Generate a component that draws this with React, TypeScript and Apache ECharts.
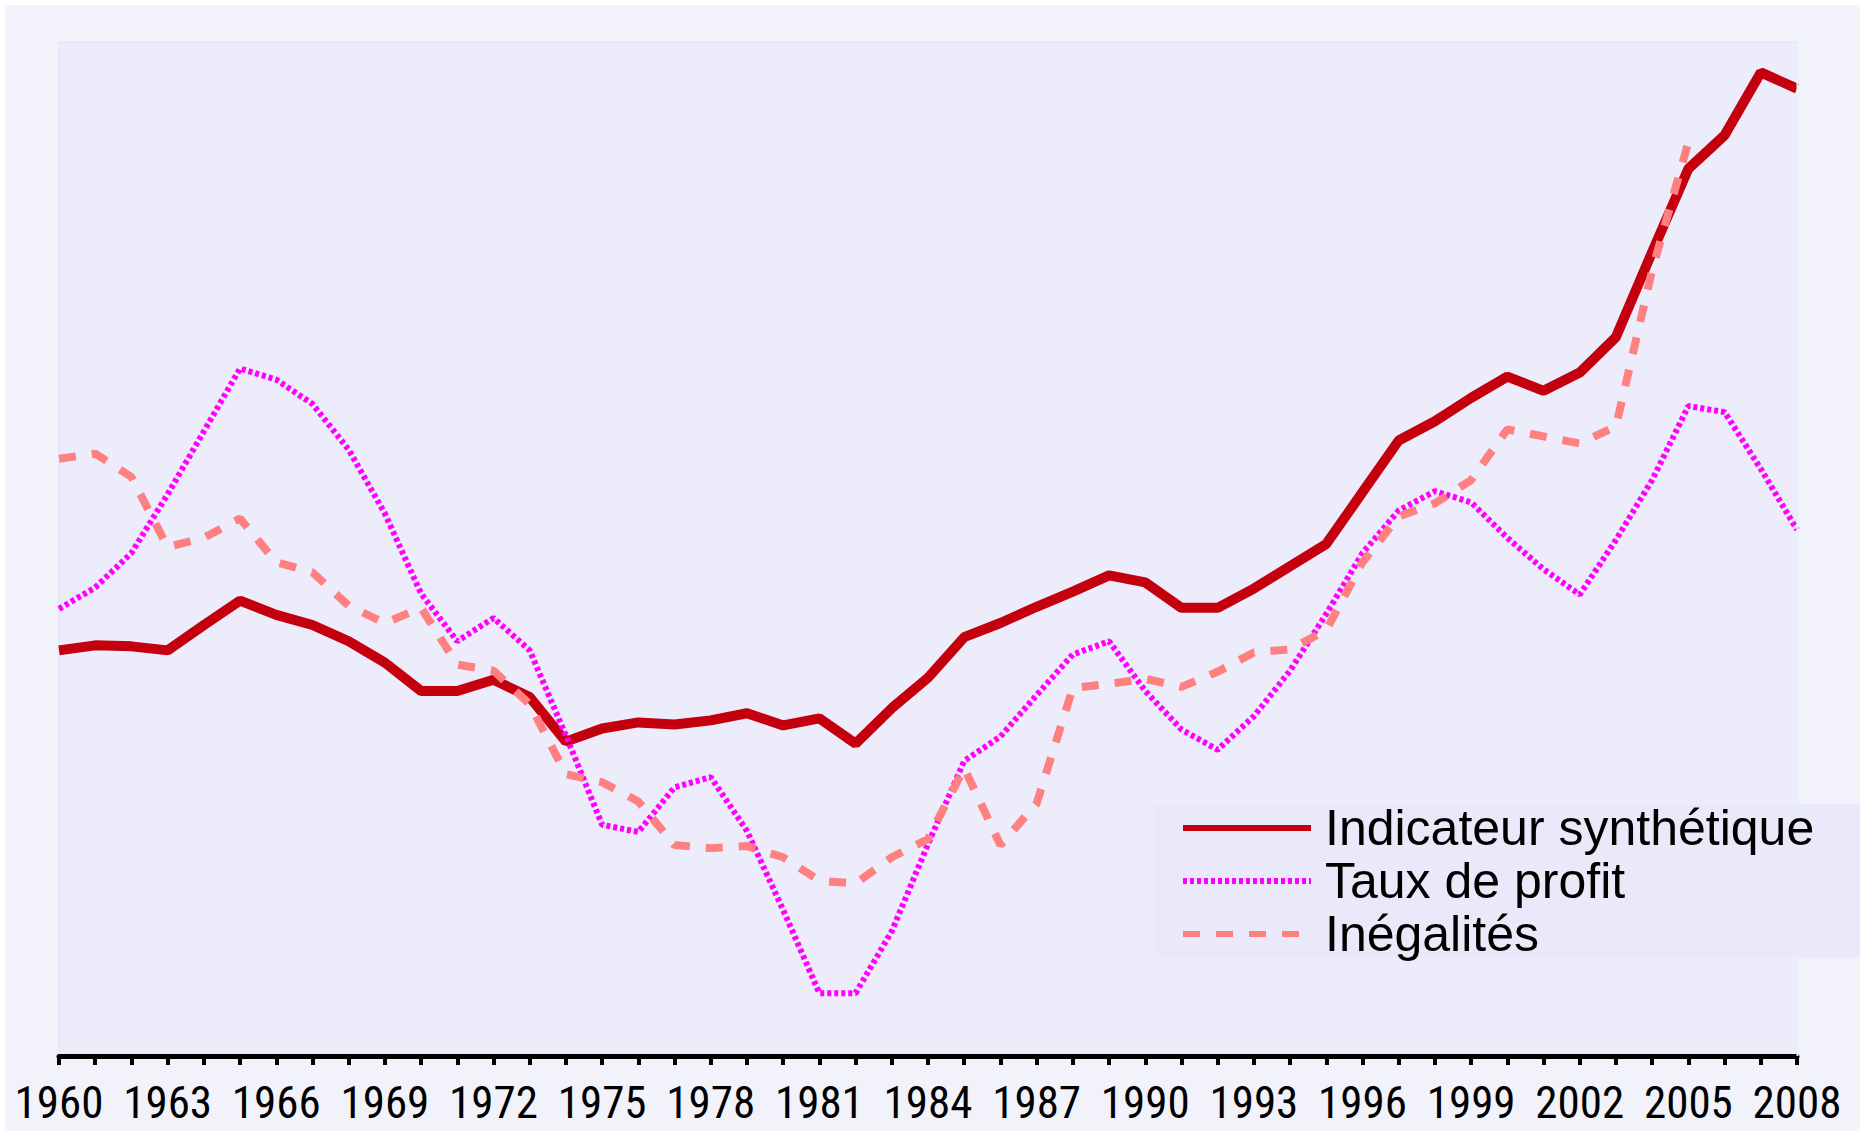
import React, { useEffect, useRef } from "react";
import * as echarts from "echarts";

const years: string[] = [];
for (let y = 1960; y <= 2008; y++) years.push(String(y));

const indicateur = [
  40.0, 40.5, 40.4, 40.0, 42.5, 44.9, 43.5, 42.5, 40.9, 38.8,
  36.0, 36.0, 37.1, 35.4, 31.0, 32.3, 32.9, 32.7, 33.1, 33.8,
  32.6, 33.3, 30.8, 34.3, 37.3, 41.3, 42.7, 44.3, 45.8, 47.4,
  46.7, 44.2, 44.2, 46.1, 48.3, 50.5, 55.6, 60.7, 62.6, 64.9,
  67.0, 65.6, 67.4, 70.9, 79.3, 87.5, 90.8, 97.0, 95.4,
];

const tauxProfit = [
  44.1, 46.2, 49.6, 55.4, 61.6, 67.8, 66.7, 64.3, 59.8, 53.5,
  45.6, 40.9, 43.2, 40.0, 31.6, 22.8, 22.1, 26.5, 27.5, 22.2,
  14.4, 6.2, 6.2, 12.3, 20.9, 29.1, 31.5, 35.6, 39.6, 40.9,
  36.0, 32.2, 30.2, 33.5, 38.0, 43.6, 49.6, 53.8, 55.7, 54.6,
  51.1, 48.0, 45.5, 50.9, 56.8, 64.1, 63.5, 57.9, 51.9,
];

const inegalites: (number | null)[] = [
  58.9, 59.4, 57.1, 50.2, 51.1, 53.0, 48.7, 47.7, 44.4, 42.7,
  44.2, 38.6, 38.0, 34.7, 27.8, 27.0, 25.1, 20.8, 20.5, 20.7,
  19.6, 17.3, 17.0, 19.6, 21.4, 28.4, 20.8, 24.9, 36.3, 36.7,
  37.2, 36.4, 37.9, 39.8, 40.1, 42.0, 48.7, 53.2, 54.5, 56.8,
  61.8, 61.1, 60.4, 62.1, 77.5, 90.1, null, null, null,
];

const seriesNames = ["Indicateur synthétique", "Taux de profit", "Inégalités"];

function pickLabelFont(): { family: string; size: number } {
  const targetWidth = 89; // width of a 4-digit year label in the reference
  const candidates = [
    "Liberation Sans Narrow",
    "Arial Narrow",
    "Roboto Condensed",
    "DejaVu Sans Condensed",
    "Open Sans Condensed",
  ];
  try {
    const ctx = document.createElement("canvas").getContext("2d");
    if (ctx) {
      const measure = (font: string) => {
        ctx.font = font;
        return ctx.measureText("1960 abcdefghij").width;
      };
      const baseMono = measure("100px monospace");
      const baseSerif = measure("100px serif");
      for (const name of candidates) {
        const m = measure(`100px "${name}", monospace`);
        const s = measure(`100px "${name}", serif`);
        if (Math.abs(m - baseMono) > 0.5 || Math.abs(s - baseSerif) > 0.5) {
          ctx.font = `100px "${name}"`;
          const w = ctx.measureText("1960").width;
          return { family: `"${name}"`, size: Math.round((100 * targetWidth) / w) };
        }
      }
      ctx.font = `100px "Liberation Sans", Arial, sans-serif`;
      const w = ctx.measureText("1960").width;
      return { family: "Liberation Sans, Arial, sans-serif", size: Math.round((100 * targetWidth) / w) };
    }
  } catch (e) {
    /* ignore */
  }
  return { family: "Liberation Sans, Arial, sans-serif", size: 40 };
}

export default function App() {
  const ref = useRef<HTMLDivElement>(null);

  useEffect(() => {
    if (!ref.current) return;
    const chart = echarts.init(ref.current, undefined, { renderer: "svg" });
    const labelFont = pickLabelFont();
    chart.setOption({
      animation: false,
      backgroundColor: "#f2f2fb",
      graphic: [
        {
          type: "rect",
          z: 5,
          shape: { x: 1149, y: 799, width: 710, height: 154 },
          style: { fill: "#e9e9f9" },
          silent: true,
        },
        {
          type: "line",
          z: 4,
          shape: { x1: 1792.5, y1: 37, x2: 1792.5, y2: 1051 },
          style: { stroke: "#dff6fb", lineWidth: 2 },
          silent: true,
        },
      ],
      grid: {
        left: 54,
        right: 63,
        top: 37,
        bottom: 75,
        show: true,
        backgroundColor: "#ececfb",
        borderColor: "#e0e0f6",
        borderWidth: 1,
      },
      legend: {
        show: true,
        orient: "vertical",
        left: 1175,
        top: 798,
        z: 10,
        padding: 0,
        itemGap: 3,
        itemWidth: 128,
        itemHeight: 8,
        data: seriesNames,
        lineStyle: { width: 6 },
        itemStyle: { opacity: 0 },
        textStyle: {
          fontFamily: "Liberation Sans, Arial, sans-serif",
          fontSize: 50,
          lineHeight: 50,
          color: "#000",
          padding: [0, 0, 0, 9],
        },
      },
      xAxis: {
        type: "category",
        data: years,
        boundaryGap: false,
        axisLine: { show: true, lineStyle: { color: "#000", width: 5 } },
        axisTick: {
          show: true,
          interval: 0,
          length: 9,
          lineStyle: { color: "#000", width: 4 },
        },
        axisLabel: {
          interval: 2,
          showMinLabel: true,
          showMaxLabel: true,
          hideOverlap: false,
          margin: Math.round(46 - labelFont.size / 2),
          color: "#000",
          fontSize: labelFont.size,
          lineHeight: labelFont.size,
          fontFamily: labelFont.family,
        },
        splitLine: { show: false },
      },
      yAxis: {
        type: "value",
        min: 0,
        max: 100,
        show: false,
        splitLine: { show: false },
      },
      series: [
        {
          name: seriesNames[0],
          type: "line",
          data: indicateur,
          symbol: "none",
          z: 3,
          lineStyle: { color: "#c4000e", width: 10, type: "solid" },
          itemStyle: { color: "#c4000e" },
        },
        {
          name: seriesNames[1],
          type: "line",
          data: tauxProfit,
          symbol: "none",
          z: 3,
          lineStyle: { color: "#ff00ff", width: 6, type: [4, 3] },
          itemStyle: { color: "#ff00ff" },
        },
        {
          name: seriesNames[2],
          type: "line",
          data: inegalites,
          symbol: "none",
          z: 3,
          connectNulls: false,
          lineStyle: { color: "#ff8080", width: 8, type: [17, 16] },
          itemStyle: { color: "#ff8080" },
        },
      ],
    });
    return () => chart.dispose();
  }, []);

  return (
    <div
      style={{
        position: "absolute",
        left: 0,
        top: 0,
        width: 1860,
        height: 1131,
        background: "#ffffff",
        overflow: "hidden",
      }}
    >
      <div
        ref={ref}
        style={{ position: "absolute", left: 5, top: 5, width: 1855, height: 1126 }}
      />
    </div>
  );
}
